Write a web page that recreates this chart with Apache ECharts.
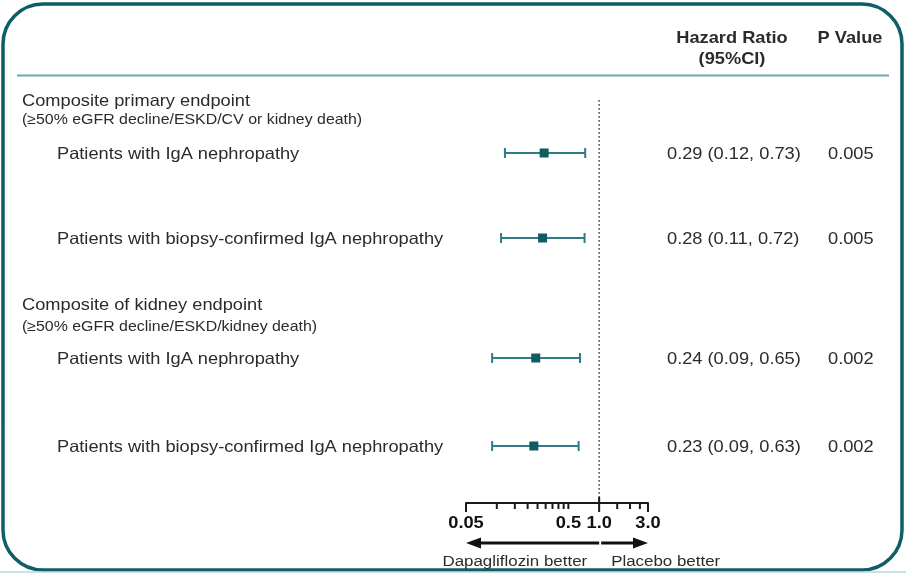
<!DOCTYPE html>
<html>
<head>
<meta charset="utf-8">
<script src="https://cdn.jsdelivr.net/npm/echarts@6/dist/echarts.min.js"></script>
<style>
  html, body { margin: 0; padding: 0; background: #ffffff; }
  #chart { width: 906px; height: 573px; }
</style>
</head>
<body>
<div id="chart"></div>
<script>
// ---- data ----
const sectionTitles = ['Composite primary endpoint', 'Composite of kidney endpoint'];
const sectionNotes = ['(\u226550% eGFR decline/ESKD/CV or kidney death)', '(\u226550% eGFR decline/ESKD/kidney death)'];
const rowLabels = [
  'Patients with IgA nephropathy',
  'Patients with biopsy-confirmed IgA nephropathy',
  'Patients with IgA nephropathy',
  'Patients with biopsy-confirmed IgA nephropathy'
];
const hazardRatio = [0.29, 0.28, 0.24, 0.23];
const ciLower = [0.12, 0.11, 0.09, 0.09];
const ciUpper = [0.73, 0.72, 0.65, 0.63];
const pValues = ['0.005', '0.005', '0.002', '0.002'];
const tickValues = [0.05, 0.1, 0.15, 0.2, 0.25, 0.3, 0.35, 0.4, 0.45, 0.5, 1.0, 1.5, 2.0, 2.5, 3.0];
const tickLabels = [0.05, 0.5, 1.0, 3.0];
const majorTicks = [0.05, 1.0, 3.0];
const favourLabels = ['Dapagliflozin better', 'Placebo better'];

// ---- layout ----
const ROW_Y = [153, 238, 358, 446];
const SECTION_Y = [99.5, 304];
const NOTE_Y = [119, 326];
const AXIS_Y = 503;          // y-axis max == bottom of the grid
const X_MIN = 0.05, X_MAX = 3, X_REF = 1.0;

const FONT = '"Liberation Sans", Arial, Helvetica, sans-serif';
const SX = 1.105;            // horizontal text stretch
const TEXT_DY = 1.5;         // optical centring of text on its row
const TEXT = '#2b2b2b';
const TEAL = '#0f5d66';
const CI_COLOR = '#2e7c85';
const MARK_COLOR = '#115c64';

const fmt2 = v => v.toFixed(2);
const tickFmt = v => (v < 0.1 ? v.toFixed(2) : v.toFixed(1));

function txt(x, y, text, size, opts) {
  opts = opts || {};
  return {
    type: 'text', x: x, y: y + TEXT_DY, scaleX: SX,
    style: {
      text: text, fontSize: size, fontFamily: FONT,
      fontWeight: opts.bold ? 'bold' : 'normal',
      fill: opts.color || TEXT,
      align: opts.align || 'left', verticalAlign: 'middle'
    }
  };
}

const chart = echarts.init(document.getElementById('chart'), null, { renderer: 'canvas' });

const rows = hazardRatio.map((hr, i) => [hr, ciLower[i], ciUpper[i], ROW_Y[i]]);

const staticText = [];
sectionTitles.forEach((t, i) => {
  staticText.push(txt(22, SECTION_Y[i], t, 16.5));
  staticText.push(txt(22, NOTE_Y[i], sectionNotes[i], 14.4));
});

const option = {
  animation: false,
  backgroundColor: '#ffffff',
  grid: { left: 466, right: 258, top: 0, bottom: 573 - AXIS_Y },
  xAxis: {
    type: 'log', logBase: 10, min: X_MIN, max: X_MAX, position: 'bottom',
    axisLine: { show: true, onZero: false, lineStyle: { color: '#1a1a1a', width: 2 } },
    axisTick: { show: false },
    axisLabel: { show: false },
    splitLine: { show: false }
  },
  yAxis: {
    type: 'value', min: 0, max: AXIS_Y, inverse: true, show: false
  },
  graphic: [
    {
      type: 'rect', z: 0,
      shape: { x: 3, y: 4, width: 899, height: 566, r: 40 },
      style: { fill: 'none', stroke: TEAL, lineWidth: 3.5 }
    },
    {
      type: 'line',
      shape: { x1: 0, y1: 572, x2: 906, y2: 572 },
      style: { stroke: '#b9d7dd', lineWidth: 1.5 }
    },
    {
      type: 'line',
      shape: { x1: 17, y1: 75.5, x2: 889, y2: 75.5 },
      style: { stroke: '#6fa9b0', lineWidth: 2 }
    },
    txt(732, 37, 'Hazard Ratio', 16.5, { bold: true, align: 'center' }),
    txt(732, 58, '(95%CI)', 16.5, { bold: true, align: 'center' }),
    txt(850, 37, 'P Value', 16.5, { bold: true, align: 'center' })
  ].concat(staticText),
  series: [
    {
      // reference line at HR = 1
      type: 'custom', silent: true,
      data: [[X_REF]],
      renderItem: function (params, api) {
        const top = api.coord([api.value(0), 100]);
        const bot = api.coord([api.value(0), AXIS_Y + 6]);
        return {
          type: 'line',
          shape: { x1: top[0], y1: top[1], x2: bot[0], y2: bot[1] },
          style: { stroke: '#666666', lineWidth: 1.7, lineDash: [1.7, 2.3] }
        };
      }
    },
    {
      // axis ticks
      type: 'custom', silent: true,
      data: tickValues.map(v => [v]),
      renderItem: function (params, api) {
        const v = api.value(0);
        const p = api.coord([v, AXIS_Y]);
        const major = majorTicks.indexOf(v) >= 0;
        const up = v === X_REF ? 6 : 0;
        return {
          type: 'line',
          shape: { x1: p[0], y1: p[1] - up, x2: p[0], y2: p[1] + (major ? 9 : 6) },
          style: { stroke: '#1a1a1a', lineWidth: 2 }
        };
      }
    },
    {
      // axis tick labels
      type: 'custom', silent: true,
      data: tickLabels.map(v => [v]),
      renderItem: function (params, api) {
        const v = api.value(0);
        const p = api.coord([v, AXIS_Y]);
        return txt(p[0], p[1] + 19, tickFmt(v), 16.5, { bold: true, align: 'center', color: '#111' });
      }
    },
    {
      // favour arrows and captions
      type: 'custom', silent: true,
      data: [[X_MIN, X_REF, X_MAX]],
      renderItem: function (params, api) {
        const y = AXIS_Y + 40;
        const l = api.coord([api.value(0), y]);
        const c = api.coord([api.value(1), y]);
        const r = api.coord([api.value(2), y]);
        const head = 15, hw = 5.5, col = '#111';
        return {
          type: 'group',
          children: [
            { type: 'line', shape: { x1: c[0], y1: y, x2: l[0] + head - 2, y2: y }, style: { stroke: col, lineWidth: 3 } },
            { type: 'polygon', shape: { points: [[l[0], y], [l[0] + head, y - hw], [l[0] + head, y + hw]] }, style: { fill: col } },
            { type: 'line', shape: { x1: c[0] + 2, y1: y, x2: r[0] - head + 2, y2: y }, style: { stroke: col, lineWidth: 3 } },
            { type: 'polygon', shape: { points: [[r[0], y], [r[0] - head, y - hw], [r[0] - head, y + hw]] }, style: { fill: col } },
            txt(c[0] - 12, y + 17.5, favourLabels[0], 15.3, { align: 'right' }),
            txt(c[0] + 12, y + 17.5, favourLabels[1], 15.3, { align: 'left' })
          ]
        };
      }
    },
    {
      // hazard ratio rows
      type: 'custom', silent: true,
      encode: { x: [0, 1, 2], y: 3 },
      data: rows,
      renderItem: function (params, api) {
        const i = params.dataIndex;
        const hr = api.value(0), lo = api.value(1), hi = api.value(2);
        const pm = api.coord([hr, api.value(3)]);
        const pl = api.coord([lo, api.value(3)]);
        const ph = api.coord([hi, api.value(3)]);
        const y = pm[1], cap = 5, sq = 9;
        return {
          type: 'group',
          children: [
            { type: 'line', shape: { x1: pl[0], y1: y, x2: ph[0], y2: y }, style: { stroke: CI_COLOR, lineWidth: 2 } },
            { type: 'line', shape: { x1: pl[0], y1: y - cap, x2: pl[0], y2: y + cap }, style: { stroke: CI_COLOR, lineWidth: 2 } },
            { type: 'line', shape: { x1: ph[0], y1: y - cap, x2: ph[0], y2: y + cap }, style: { stroke: CI_COLOR, lineWidth: 2 } },
            { type: 'rect', shape: { x: pm[0] - sq / 2, y: y - sq / 2, width: sq, height: sq }, style: { fill: MARK_COLOR } },
            txt(57, y, rowLabels[i], 16.5),
            txt(667, y, fmt2(hr) + ' (' + fmt2(lo) + ', ' + fmt2(hi) + ')', 16.5),
            txt(828, y, pValues[i], 16.5)
          ]
        };
      }
    }
  ]
};

chart.setOption(option);
</script>
</body>
</html>
